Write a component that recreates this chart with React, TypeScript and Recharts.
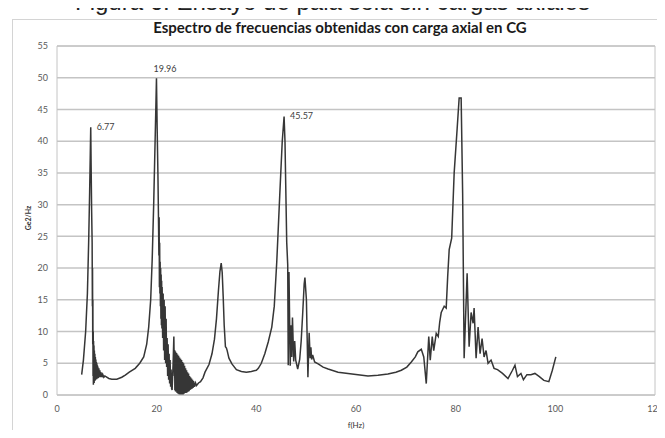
import {
  LineChart,
  Line,
  XAxis,
  YAxis,
  CartesianGrid,
  ReferenceArea,
  ReferenceDot,
} from "recharts";

// first peak and its ringing
const peak1Hz = [4.95, 5.3, 5.75, 6.1, 6.35, 6.55, 6.68, 6.77, 6.85, 6.95, 7.05, 7.1, 7.13, 7.17, 7.2, 7.23, 7.27, 7.3, 7.34, 7.38, 7.42, 7.46, 7.5, 7.55, 7.6, 7.65, 7.7, 7.75, 7.8, 7.85, 7.9, 7.95, 8.0, 8.05, 8.1, 8.15, 8.2, 8.3, 8.4, 8.5, 8.6, 8.7, 8.8, 8.9, 9.0, 9.1, 9.2, 9.4, 9.6];
const peak1Val = [3.2, 5.5, 10, 16, 24, 32, 38, 42.2, 36, 29, 24, 14, 20, 8, 15, 3, 10, 1.6, 8.5, 2.0, 7.8, 1.9, 7.0, 2.2, 6.5, 2.3, 6.0, 2.4, 5.6, 2.5, 5.2, 2.5, 5.0, 2.6, 4.7, 2.6, 4.5, 2.7, 4.2, 2.8, 3.9, 2.8, 3.6, 2.8, 3.4, 2.8, 3.2, 2.8, 3.0];

// trough, second peak, noisy tail
const peak2Hz = [10.4, 11, 12, 13, 13.7, 14.5, 15.7, 16.6, 17.4, 18.0, 18.4, 18.8, 19.1, 19.4, 19.6, 19.8, 19.96, 20.1, 20.25, 20.35, 20.45, 20.5, 20.55, 20.6, 20.65, 20.7, 20.75, 20.8, 20.85, 20.9, 20.95, 21.0, 21.05, 21.1, 21.2, 21.3, 21.4, 21.5, 21.6, 21.7, 21.8, 21.9, 22.0, 22.1, 22.2, 22.3, 22.4, 22.5, 22.6, 22.7, 22.8, 22.9, 23.0, 23.1];
const peak2Val = [2.6, 2.5, 2.5, 2.8, 3.15, 3.6, 4.2, 5.0, 6.0, 8.0, 10.7, 15, 21.3, 30, 37, 44, 49.9, 42, 35, 28.7, 22, 28, 17, 24, 16, 21, 14, 20, 12, 19, 11, 18, 10.5, 17, 9, 16, 7, 15, 5.5, 14, 5, 12, 4.4, 9, 3, 8, 2.4, 6.5, 1.8, 5.5, 1.3, 4, 1.0, 0.8];

// spike at 23.5, decaying band, third peak
const peak3Hz = [23.3, 23.45, 23.55, 23.6, 23.65, 23.7, 23.75, 23.8, 23.9, 24.0, 24.1, 24.2, 24.3, 24.4, 24.5, 24.6, 24.7, 24.8, 24.9, 25.0, 25.1, 25.2, 25.3, 25.4, 25.5, 25.6, 25.7, 25.8, 25.9, 26.0, 26.1, 26.2, 26.3, 26.4, 26.5, 26.6, 26.7, 26.8, 26.9, 27.0, 27.1, 27.2, 27.3, 27.4, 27.6, 27.8, 28.0, 28.4, 28.8, 29.3, 29.7, 30.5, 31.1, 31.6, 32.0, 32.4, 32.7, 32.95, 33.15, 33.35, 33.55, 33.8, 34.0, 34.15, 34.5, 35.1, 36.0, 37.0, 38.0, 39.0, 40.0];
const peak3Val = [5, 9.2, 3, 7.1, 0.8, 6.9, 0.6, 6.8, 0.5, 6.6, 0.3, 6.4, 0.2, 6.2, 0.1, 5.9, 0.1, 5.7, 0.1, 5.5, 0.1, 5.2, 0.1, 5.0, 0.2, 4.6, 0.3, 4.2, 0.3, 3.9, 0.4, 3.6, 0.5, 3.4, 0.6, 3.0, 0.8, 2.8, 0.9, 2.6, 1.0, 2.4, 1.1, 2.2, 1.3, 1.9, 1.5, 1.9, 2.1, 2.7, 3.6, 4.8, 6.5, 8.8, 12, 16.5, 19.5, 20.8, 19.3, 15.5, 11, 7.6, 7.4, 7.0, 5.8, 4.9, 4.0, 3.7, 3.6, 3.7, 3.9];

// fourth peak and the long flat stretch
const peak4Hz = [40.4, 41.0, 41.7, 42.4, 43.1, 43.6, 44.1, 44.7, 45.2, 45.57, 45.75, 45.9, 46.1, 46.3, 46.4, 46.55, 46.8, 46.95, 47.1, 47.25, 47.5, 47.7, 47.9, 48.3, 48.7, 49.0, 49.3, 49.6, 49.75, 50.05, 50.2, 50.35, 50.6, 50.8, 50.95, 51.1, 51.3, 51.7, 52.4, 53.4, 54.4, 56.4, 58.4, 60.4, 62.4, 64.4, 66.4, 68.0, 69.1, 70.2, 71.1, 71.9, 72.4, 73.1];
const peak4Val = [4.2, 5.0, 6.5, 8.4, 10.7, 14, 21, 31.5, 40, 43.9, 40, 33, 24, 20.5, 4.7, 19.4, 4.6, 11, 6, 12.2, 5.3, 8.5, 5.5, 4.1, 5.6, 8.5, 12.8, 17.5, 18.5, 15, 9, 2.8, 9.8, 5.8, 7.5, 5.6, 6.3, 5.2, 4.9, 4.4, 4.1, 3.6, 3.4, 3.2, 3.0, 3.1, 3.3, 3.6, 3.9, 4.4, 5.2, 6.0, 6.8, 7.2];

// fifth peak up to 100 Hz
const peak5Hz = [73.6, 74.1, 74.6, 74.9, 75.3, 75.6, 76.1, 76.5, 76.8, 77.1, 77.7, 78.1, 78.4, 78.7, 79.2, 79.7, 80.3, 80.7, 81.1, 81.4, 81.7, 82.3, 82.7, 83.1, 83.5, 83.7, 84.1, 84.5, 84.9, 85.3, 85.7, 86.1, 86.5, 87.1, 87.7, 88.4, 89.4, 90.5, 91.4, 91.9, 92.4, 93.1, 93.6, 94.3, 95.1, 95.9, 96.8, 97.7, 98.7, 99.4, 100.1];
const peak5Val = [6.0, 1.8, 9.2, 5.5, 9.2, 7, 9.7, 9.2, 11.5, 13, 14, 13.7, 18.7, 22.9, 24.7, 35, 42, 46.8, 46.8, 31.8, 5.8, 19.2, 7.6, 13, 11.3, 13.7, 5.8, 10.7, 6.5, 8.9, 6, 7, 5.0, 5.5, 4.2, 4.0, 3.4, 2.6, 3.9, 4.7, 2.9, 3.4, 2.4, 3.2, 3.2, 3.4, 2.9, 2.3, 2.1, 3.9, 6];

const xTicks = [0, 20, 40, 60, 80, 100, 120];
const yTicks = [0, 5, 10, 15, 20, 25, 30, 35, 40, 45, 50, 55];

// labelled peaks: [frequency, value, dx, dy]
const peakLabels: [number, number, number, number][] = [
  [6.77, 42.2, 6, 3],
  [19.96, 49.9, -3, -6],
  [45.57, 43.9, 6, 3],
];

const hzParts = [peak1Hz, peak2Hz, peak3Hz, peak4Hz, peak5Hz];
const valParts = [peak1Val, peak2Val, peak3Val, peak4Val, peak5Val];

const data = hzParts.flatMap((hz, i) =>
  hz.map((f, j) => ({ f, g: valParts[i][j] }))
);

const font = "Lato, 'Open Sans', sans-serif";
const tickStyle = { fontSize: 9, fill: "#595959", fontFamily: font };

export default function App() {
  return (
    <div
      style={{
        position: "relative",
        width: 665,
        height: 438,
        margin: -8,
        overflow: "hidden",
        background: "#fff",
      }}
    >
      <div
        style={{
          position: "absolute",
          left: 75,
          top: -12,
          fontFamily: "'Liberation Sans', Arial, sans-serif",
          fontSize: 24,
          lineHeight: "28px",
          color: "#222",
          whiteSpace: "nowrap",
        }}
      >
        Figura 6. Ensayo de pala sola sin cargas axiales
      </div>
      <div
        style={{
          position: "absolute",
          left: 12,
          top: 19,
          width: 700,
          height: 500,
          border: "1px solid #d4d4d4",
        }}
      />
      <div
        style={{
          position: "absolute",
          left: 0,
          top: 18,
          width: 680,
          textAlign: "center",
          fontFamily: font,
          fontWeight: 700,
          fontSize: 15,
          color: "#1a1a1a",
        }}
      >
        Espectro de frecuencias obtenidas con carga axial en CG
      </div>
      <div
        style={{
          position: "absolute",
          left: 28,
          top: 218,
          transform: "translate(-50%, -50%) rotate(-90deg)",
          fontFamily: font,
          fontWeight: 700,
          fontSize: 7,
          color: "#333",
          whiteSpace: "nowrap",
        }}
      >
        Ge2/Hz
      </div>
      <div
        style={{
          position: "absolute",
          left: 356,
          top: 425,
          transform: "translate(-50%, -50%)",
          fontFamily: font,
          fontSize: 8,
          color: "#333",
        }}
      >
        f(Hz)
      </div>
      <div style={{ position: "absolute", left: 0, top: 0 }}>
        <LineChart
          width={665}
          height={438}
          data={data}
          margin={{ top: 46, right: 10, left: 27, bottom: 13 }}
        >
          <CartesianGrid
            vertical={false}
            stroke="#c4c4c4"
            strokeWidth={1.5}
          />
          <XAxis
            dataKey="f"
            type="number"
            domain={[0, 120]}
            ticks={xTicks}
            height={30}
            tickLine={false}
            axisLine={false}
            tickSize={6}
            tickMargin={5}
            tick={tickStyle}
          />
          <YAxis
            type="number"
            domain={[0, 55]}
            ticks={yTicks}
            width={30}
            tickLine={false}
            axisLine={false}
            tickSize={6}
            tickMargin={3}
            tick={tickStyle}
          />
          <ReferenceArea
            x1={0}
            x2={120}
            y1={0}
            y2={55}
            fill="none"
            stroke="#c4c4c4"
            strokeWidth={1}
          />
          <Line
            dataKey="g"
            type="linear"
            stroke="#363636"
            strokeWidth={1.5}
            dot={false}
            isAnimationActive={false}
          />
          {peakLabels.map(([f, g, dx, dy]) => (
            <ReferenceDot
              key={f}
              x={f}
              y={g}
              r={0}
              fill="none"
              stroke="none"
              label={(props: any) => (
                <text
                  x={props.viewBox.x + dx}
                  y={props.viewBox.y + dy}
                  fontSize={9}
                  fontFamily={font}
                  fill="#404040"
                >
                  {f.toFixed(2)}
                </text>
              )}
            />
          ))}
        </LineChart>
      </div>
    </div>
  );
}
